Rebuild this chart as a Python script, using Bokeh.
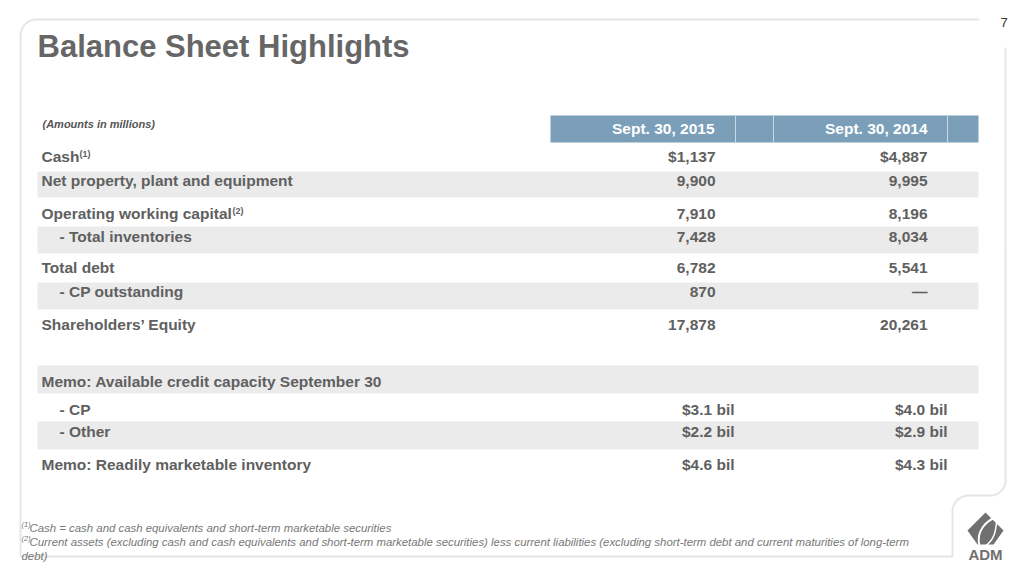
import numpy as np
from bokeh.plotting import figure
from bokeh.models import Range1d, ColumnDataSource
from bokeh.core.properties import value
from bokeh.embed import file_html
from bokeh.resources import INLINE

# ---------------- data ----------------
title = "Balance Sheet Highlights"
page_no = "7"
units_note = "(Amounts in millions)"
col_headers = ["Sept. 30, 2015", "Sept. 30, 2014"]

labels = [
    "Cash",
    "Net property, plant and equipment",
    "Operating working capital",
    "- Total inventories",
    "Total debt",
    "- CP outstanding",
    "Shareholders\u2019 Equity",
]
label_sups = ["(1)", "", "(2)", "", "", "", ""]
vals_2015 = [1137, 9900, 7910, 7428, 6782, 870, 17878]
vals_2014 = [4887, 9995, 8196, 8034, 5541, 0, 20261]

memo_labels = [
    "Memo: Available credit capacity September 30",
    "- CP",
    "- Other",
    "Memo: Readily marketable inventory",
]
memo_2015 = [None, 3.1, 2.2, 4.6]   # $ billions
memo_2014 = [None, 4.0, 2.9, 4.3]

footnotes = [
    ("(1)", "Cash = cash and cash equivalents and short-term marketable securities"),
    ("(2)", "Current assets (excluding cash and cash equivalents and short-term marketable securities) less current liabilities (excluding short-term debt and current maturities of long-term"),
    ("", "debt)"),
]

# ---------------- styling / layout ----------------
FONT = value("Liberation Sans")
TXT = "#606060"
HDR = "#7b9fb8"
BAND = "#ebebeb"
FRAME = "#e6e6e6"
K = 0.37  # baseline correction factor (fraction of font size)

def by(b, size):
    return b - K * size

p = figure(width=1008, height=568, x_range=Range1d(0, 1008), y_range=Range1d(568, 0),
           output_backend="svg", toolbar_location=None, x_axis_type=None, y_axis_type=None,
           min_border=0)
p.outline_line_color = None
p.grid.visible = False
p.background_fill_color = "white"
p.border_fill_color = "white"

# frame
def arc(cx, cy, r, a0, a1, n=20):
    t = np.radians(np.linspace(a0, a1, n))
    return list(cx + r * np.cos(t)), list(cy + r * np.sin(t))

ax, ay = arc(36, 35, 16, 180, 270)
p.line([20] + ax + [979], [556] + ay + [19], line_color=FRAME, line_width=2)
bx1, by1 = arc(990, 480, 15, 0, 90)
bx2, by2 = arc(968, 511, 16, 270, 180)
p.line([1005] + bx1 + bx2 + [952, 20], [47] + by1 + by2 + [556, 556],
       line_color=FRAME, line_width=2)

# title, page number
p.text(x=[37], y=[by(57, 31)], text=[title], text_font=FONT, text_font_style="bold",
       text_font_size="31px", text_color="#666666", text_baseline="alphabetic")
p.text(x=[1000], y=[by(27, 13)], text=[page_no], text_font=FONT, text_font_size="13px",
       text_color="#333333", text_baseline="alphabetic")
p.text(x=[42], y=[by(128, 11)], text=[units_note], text_font=FONT,
       text_font_style="bold italic", text_font_size="11px", text_color="#555555",
       text_baseline="alphabetic")

# header bar
p.quad(left=[550], right=[978], top=[115], bottom=[142], fill_color=HDR, line_color=None)
p.segment(x0=[735, 773, 947], y0=[115] * 3, x1=[735, 773, 947], y1=[142] * 3,
          line_color="#c9d8e3", line_width=1)
p.text(x=[714, 927], y=[by(134, 15.5)] * 2, text=col_headers, text_font=FONT,
       text_font_style="bold", text_font_size="15.5px", text_color="white",
       text_align="right", text_baseline="alphabetic")

# rows
all_labels = labels + memo_labels
baselines = [162, 186, 219, 242, 273, 297, 330, 387, 415, 437, 470]
band_top = [171, 226, 282, 365, 421]
band_bot = [197, 253, 309, 393, 449]
p.quad(left=[37] * len(band_top), right=[978] * len(band_top), top=band_top,
       bottom=band_bot, fill_color=BAND, line_color=None)

ty = [by(b, 15.5) for b in baselines]
lx = [59 if s.startswith("-") else 41 for s in all_labels]
src = ColumnDataSource(dict(x=lx, y=ty, t=all_labels))
p.text(x="x", y="y", text="t", source=src, text_font=FONT, text_font_style="bold",
       text_font_size="15.5px", text_color=TXT, text_baseline="alphabetic")

sup_x = {"(1)": 79, "(2)": 232}
sx = [sup_x[s] for s in label_sups if s]
sy = [by(baselines[i] - 5, 9) for i, s in enumerate(label_sups) if s]
p.text(x=sx, y=sy, text=[s for s in label_sups if s], text_font=FONT,
       text_font_style="bold", text_font_size="9px", text_color=TXT,
       text_baseline="alphabetic")

def fmt(v, first):
    if v == 0:
        return "\u2014"
    s = f"{v:,}"
    return "$" + s if first else s

v1 = [fmt(v, i == 0) for i, v in enumerate(vals_2015)]
v2 = [fmt(v, i == 0) for i, v in enumerate(vals_2014)]
nb = len(labels)
p.text(x=[715] * nb, y=ty[:nb], text=v1, text_font=FONT, text_font_style="bold",
       text_font_size="15.5px", text_color=TXT, text_align="right", text_baseline="alphabetic")
p.text(x=[927] * nb, y=ty[:nb], text=v2, text_font=FONT, text_font_style="bold",
       text_font_size="15.5px", text_color=TXT, text_align="right", text_baseline="alphabetic")

mi = [i for i, v in enumerate(memo_2015) if v is not None]
my = [ty[nb + i] for i in mi]
p.text(x=[734] * len(mi), y=my, text=[f"${memo_2015[i]:.1f} bil" for i in mi],
       text_font=FONT, text_font_style="bold", text_font_size="15.5px", text_color=TXT,
       text_align="right", text_baseline="alphabetic")
p.text(x=[947] * len(mi), y=my, text=[f"${memo_2014[i]:.1f} bil" for i in mi],
       text_font=FONT, text_font_style="bold", text_font_size="15.5px", text_color=TXT,
       text_align="right", text_baseline="alphabetic")

# footnotes
fb = [532, 546, 560]
for (sup, txt), b in zip(footnotes, fb):
    if sup:
        p.text(x=[21], y=[by(b - 5, 7.5)], text=[sup], text_font=FONT,
               text_font_style="italic", text_font_size="7.5px", text_color="#777777",
               text_baseline="alphabetic")
        tx = 29
    else:
        tx = 21
    p.text(x=[tx], y=[by(b, 11.4)], text=[txt], text_font=FONT, text_font_style="italic",
           text_font_size="11.4px", text_color="#777777", text_baseline="alphabetic")

# ADM logo
p.patch([967, 985, 1003, 993, 977], [530, 512, 530, 544, 544], fill_color="#707070",
        line_color=None)
p.bezier(x0=[979], y0=[546], x1=[997], y1=[516], cx0=[975], cy0=[530], cx1=[986], cy1=[520],
         line_color="white", line_width=2)
p.bezier(x0=[984], y0=[546], x1=[997], y1=[516], cx0=[997], cy0=[538], cx1=[995], cy1=[524],
         line_color="white", line_width=1.5)
p.text(x=[985], y=[by(560, 15)], text=["ADM"], text_font=FONT, text_font_style="bold",
       text_font_size="15px", text_color="#707070", text_align="center",
       text_baseline="alphabetic")

open("out.html", "w").write(file_html(p, INLINE))
